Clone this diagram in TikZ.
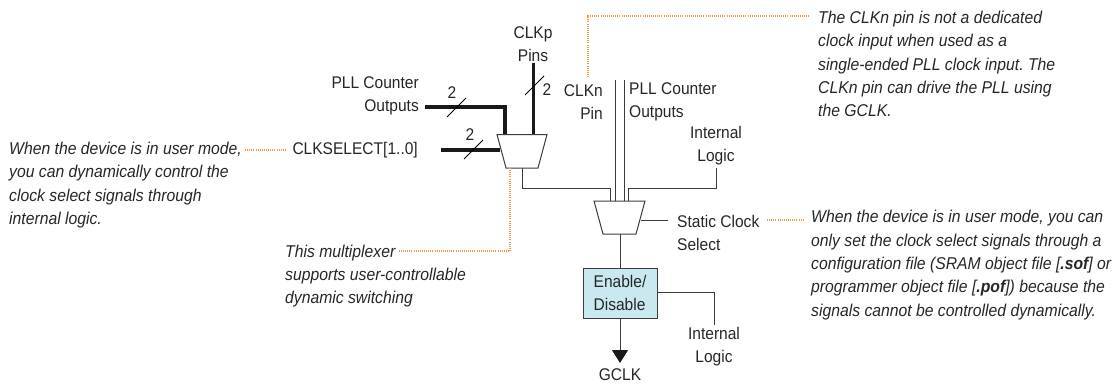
\documentclass[tikz,border=0pt]{standalone}
\usepackage{fontspec}
\setmainfont[FakeStretch=0.92]{Liberation Sans}
\usetikzlibrary{arrows.meta}
\definecolor{notedots}{HTML}{F39A4A}
\definecolor{wiregray}{HTML}{3C3C3C}
\definecolor{boxblue}{HTML}{C9E8F0}
\tikzset{%
    lbl/.style={inner sep=0pt,font=\fontsize{16.9}{23}\selectfont\frenchspacing,text=black!85,align=center},
    lblr/.style={lbl,align=right,anchor=east},
    lbll/.style={lbl,align=left,anchor=west},
    note/.style={lbl,align=left,anchor=west,font=\fontsize{17.1}{23.4}\selectfont\frenchspacing\itshape},
    wire/.style={line width=1pt,draw=wiregray},
    bus/.style={line width=3.2pt,draw=black!90},
    slash/.style={line width=0.8pt,draw=black},
    dots/.style={line width=1.1pt,draw=notedots,dash pattern=on 1pt off 1.1pt},
    muxbox/.style={line width=1pt,draw=wiregray,fill=white}
}
\begin{document}
\begin{tikzpicture}[x=1pt,y=-1pt]
    \useasboundingbox (0,0) rectangle (1115,383);
    % texts
    \node[lbl] (clkp) at (533,44){CLKp\\Pins};
    \node[lblr] (pllin) at (419,96){PLL Counter\\Outputs};
    \node[lblr] (clksel) at (418,150){CLKSELECT[1..0]};
    \node[lblr] (clkn) at (603,102){CLKn\\Pin};
    \node[lbll] (pllout) at (629,102){PLL Counter\\Outputs};
    \node[lbl] (logica) at (716,146){Internal\\Logic};
    \node[lbll] (static) at (677,233){Static Clock\\Select};
    \node[lbl] (logicb) at (714,347){Internal\\Logic};
    \node[lbl] (gclk) at (620,375){GCLK};
    \node[lbl] at (452,93) (twoa){2};
    \node[lbl] at (470,135) (twob){2};
    \node[lbl] at (547,90) (twoc){2};
    \node[note] (noteleft) at (9,185){When the device is in user mode,\\you can dynamically control the\\clock select signals through\\internal logic.};
    \node[note] (notemux) at (285,276){This multiplexer\\supports user-controllable\\dynamic switching};
    \node[note] (notetop) at (818,64){The CLKn pin is not a dedicated\\clock input when used as a\\single-ended PLL clock input. The\\CLKn pin can drive the PLL using\\the GCLK.};
    \node[note] (notestatic) at (811,265){When the device is in user mode, you can\\only set the clock select signals through a\\configuration file (SRAM object file [\textbf{.sof}] or\\programmer object file [\textbf{.pof}]) because the\\signals cannot be controlled dynamically.};
    % wire ends
    \coordinate (pa) at (425,107);
    \coordinate (pb) at (505,107);
    \coordinate (pc) at (505,135);
    \coordinate (sa) at (441,150);
    \coordinate (sb) at (500,150);
    \coordinate (ca) at (533.7,63);
    \coordinate (cb) at (533.7,135);
    \coordinate (ma) at (522,168);
    \coordinate (mb) at (522,188.5);
    \coordinate (mc) at (610,188.5);
    \coordinate (md) at (610,201);
    \coordinate (na) at (615,80);
    \coordinate (nb) at (615,201);
    \coordinate (oa) at (624,80);
    \coordinate (ob) at (624,201);
    \coordinate (la) at (716,168);
    \coordinate (lb) at (716,188.5);
    \coordinate (lc) at (628.5,188.5);
    \coordinate (ld) at (628.5,201);
    \coordinate (ra) at (641,220);
    \coordinate (rb) at (668,220);
    \coordinate (ea) at (714,292);
    \coordinate (eb) at (714,325);
    \coordinate (ua) at (620,234);
    \coordinate (tip) at (620,363);
    % wires
    \draw[bus] (pa) -- (pb) -- (pc);
    \draw[bus] (sa) -- (sb);
    \draw[bus] (ca) -- (cb);
    \draw[wire] (ma) -- (mb) -- (mc) -- (md);
    \draw[wire] (na) -- (nb);
    \draw[wire] (oa) -- (ob);
    \draw[wire] (la) -- (lb) -- (lc) -- (ld);
    \draw[wire] (ra) -- (rb);
    % muxes
    \draw[muxbox] (497,134.5) -- (547,134.5) -- (538,168) -- (506,168) -- cycle;
    \draw[muxbox] (594,201) -- (645,201) -- (636,234) -- (603,234) -- cycle;
    \node[draw=wiregray,line width=1pt,fill=boxblue,minimum width=74pt,minimum height=50pt,
        lbl,align=left] (enable) at (620,293){Enable/\\Disable};
    \draw[wire] (ua) -- (enable.north);
    \draw[wire] (enable.east |- ea) -- (ea) -- (eb);
    \draw[wire,-{Triangle[length=13pt,width=16pt,color=black!90]}] (enable.south) -- (tip);
    % slashes
    \coordinate (xa) at (447,117);
    \coordinate (xb) at (466,98);
    \coordinate (ya) at (464,159);
    \coordinate (yb) at (483,140);
    \coordinate (za) at (525,95);
    \coordinate (zb) at (544,76);
    \draw[slash] (xa) -- (xb);
    \draw[slash] (ya) -- (yb);
    \draw[slash] (za) -- (zb);
    % dotted leaders
    \coordinate (da) at (245,150);
    \coordinate (db) at (285,150);
    \coordinate (dc) at (510,168);
    \coordinate (dd) at (510,251);
    \coordinate (de) at (399,251);
    \coordinate (df) at (588,77);
    \coordinate (dg) at (588,16);
    \coordinate (dh) at (809,16);
    \coordinate (di) at (767,220);
    \coordinate (dj) at (804,220);
    \draw[dots] (da) -- (db);
    \draw[dots] (dc) -- (dd) -- (de);
    \draw[dots] (df) -- (dg) -- (dh);
    \draw[dots] (di) -- (dj);
\end{tikzpicture}
\end{document}
